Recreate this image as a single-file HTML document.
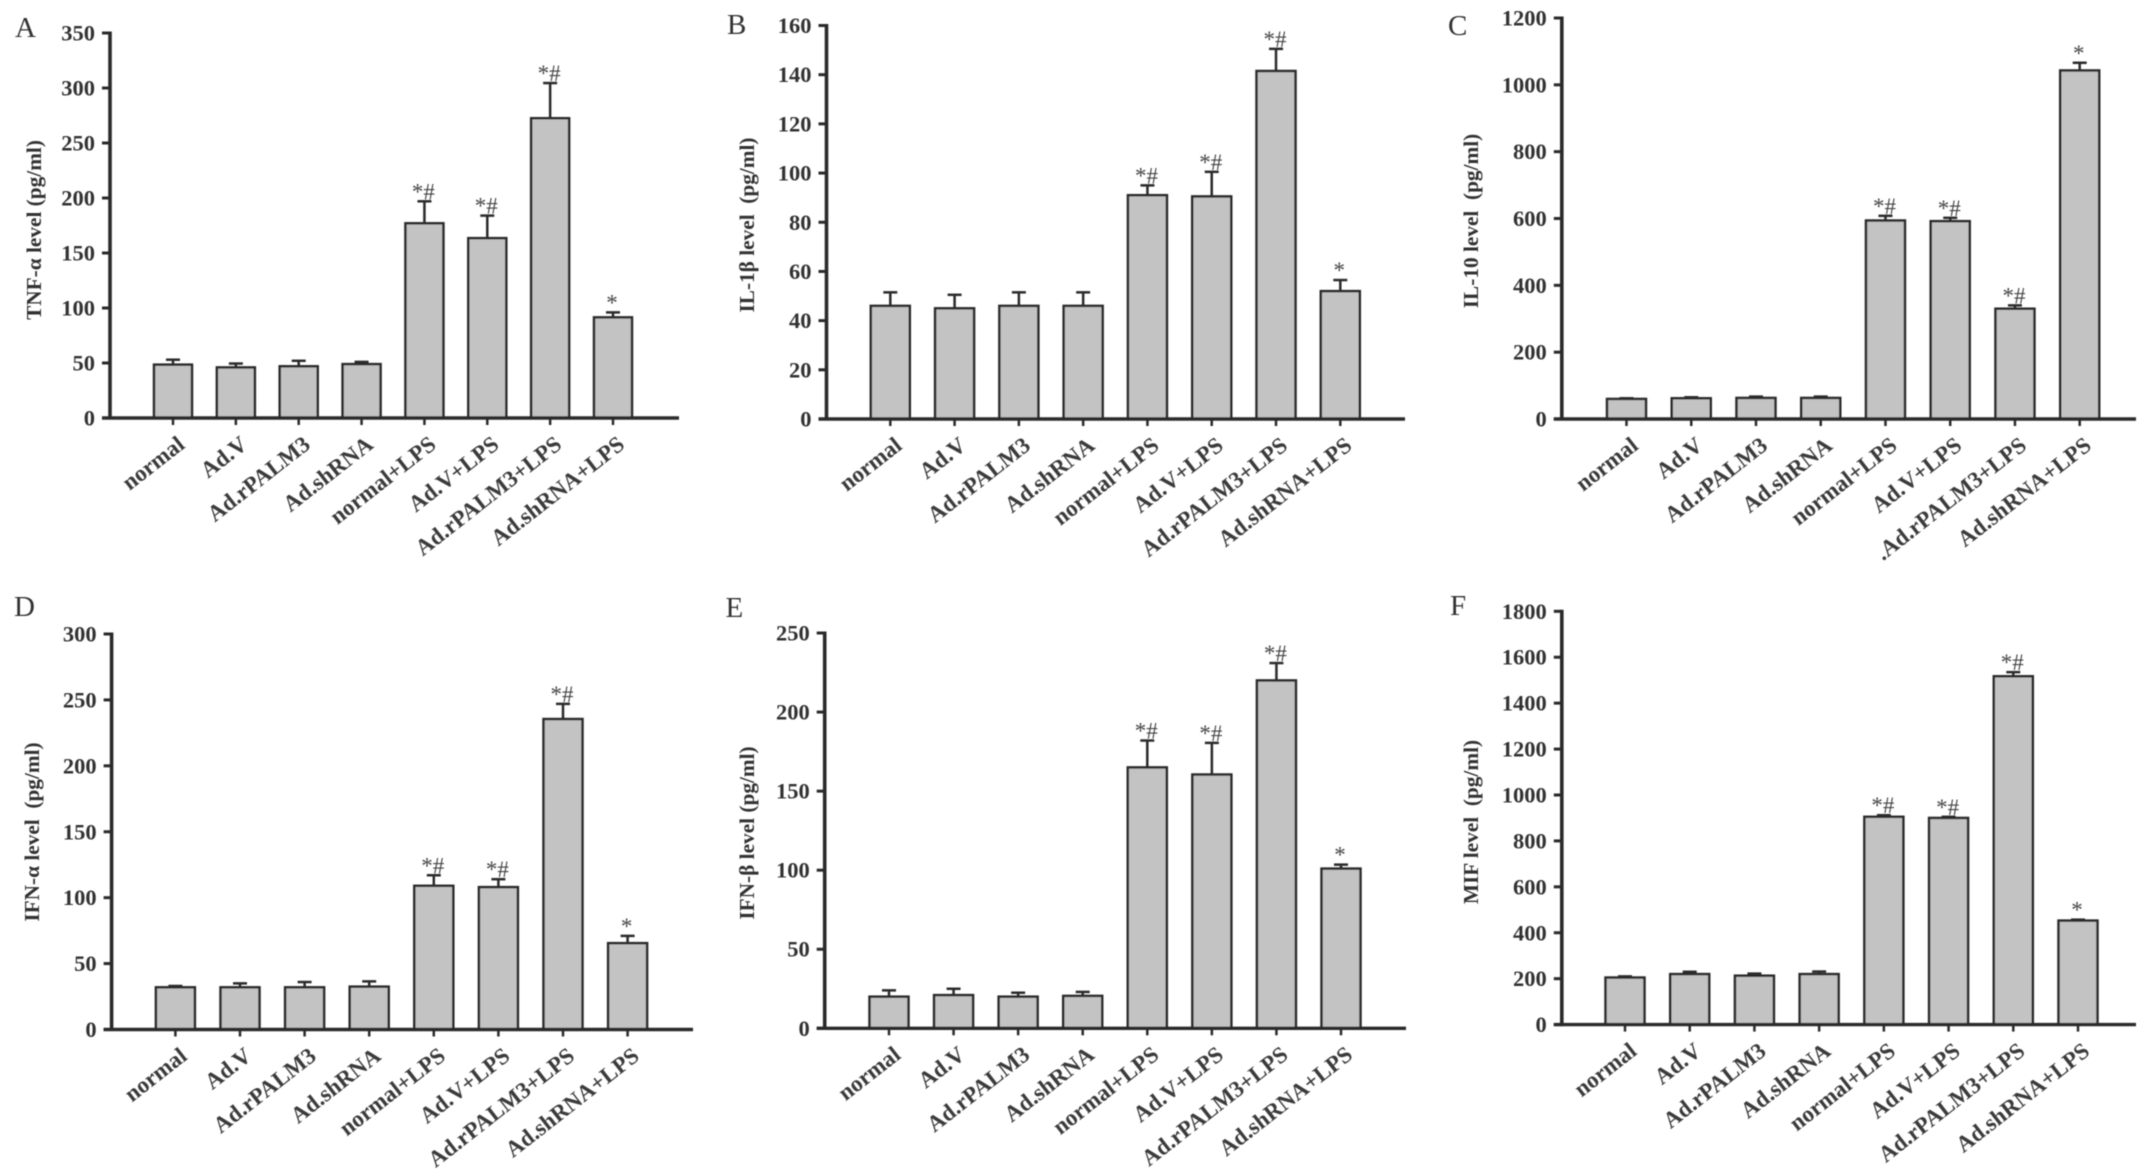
<!DOCTYPE html>
<html lang="en">
<head>
<meta charset="utf-8">
<title>Cytokine levels by treatment group</title>
<style>
html,body{margin:0;padding:0;background:#fff;}
svg{display:block;}
text{font-family:"Liberation Serif",serif;}
</style>
</head>
<body>
<svg id="figure" xmlns="http://www.w3.org/2000/svg" width="2150" height="1176" viewBox="0 0 2150 1176">
<defs><filter id="soft" x="-2%" y="-2%" width="104%" height="104%"><feGaussianBlur stdDeviation="0.6"/></filter></defs>
<rect width="2150" height="1176" fill="#fff"/>
<g id="root" filter="url(#soft)"></g>
</svg>
<script>
const categories = ["normal","Ad.V","Ad.rPALM3","Ad.shRNA","normal+LPS","Ad.V+LPS","Ad.rPALM3+LPS","Ad.shRNA+LPS"];
const categoriesC = ["normal","Ad.V","Ad.rPALM3","Ad.shRNA","normal+LPS","Ad.V+LPS",".Ad.rPALM3+LPS","Ad.shRNA+LPS"];
const significance = ["","","","","*#","*#","*#","*"];

const tnfValues = [48.5,46,47,49,177,163.5,272.5,91.5];
const tnfErrorTops = [53,49.5,52,51,197,184,304.5,96];
const tnfTicks = [0,50,100,150,200,250,300,350];

const il1Values = [46,45,46,46,91,90.5,141.5,52];
const il1ErrorTops = [51.5,50.5,51.5,51.5,95,100.5,150.5,56.5];
const il1Ticks = [0,20,40,60,80,100,120,140,160];

const il10Values = [60,62,63,63,594,592,330,1043];
const il10ErrorTops = [62,65,67,67,608,602,340,1066];
const il10Ticks = [0,200,400,600,800,1000,1200];

const ifnaValues = [32,32,32,32.5,109,108,235.5,65.5];
const ifnaErrorTops = [33,35,36,36.5,117,114,247,71];
const ifnaTicks = [0,50,100,150,200,250,300];

const ifnbValues = [20,21,20,20.5,165,160.5,220,101];
const ifnbErrorTops = [24,25,22.5,23,182,180.5,231,103.5];
const ifnbTicks = [0,50,100,150,200,250];

const mifValues = [205,220,213,220,905,900,1517,453];
const mifErrorTops = [210,230,222,231,912,905,1535,457];
const mifTicks = [0,200,400,600,800,1000,1200,1400,1600,1800];

const panels = [
  {key:"a",letter:"A",title:"TNF-\u03B1 level (pg/ml)",cats:categories,values:tnfValues,errs:tnfErrorTops,ticks:tnfTicks,
   box:{axisX:110,y0:418,top:33,endX:679,first:173,last:613,barW:38,letterX:15,letterY:37,titleX:41,titleY:230}},
  {key:"b",letter:"B",title:"IL-1\u03B2 level\u00A0 (pg/ml)",cats:categories,values:il1Values,errs:il1ErrorTops,ticks:il1Ticks,
   box:{axisX:826.5,y0:419,top:25.5,endX:1405,first:890.3,last:1340.3,barW:39,letterX:727,letterY:34,titleX:754,titleY:225}},
  {key:"c",letter:"C",title:"IL-10 level\u00A0 (pg/ml)",cats:categoriesC,values:il10Values,errs:il10ErrorTops,ticks:il10Ticks,
   box:{axisX:1561.8,y0:419,top:18,endX:2136,first:1626.5,last:2079.7,barW:39,letterX:1448,letterY:35,titleX:1478,titleY:221}},
  {key:"d",letter:"D",title:"IFN-\u03B1 level\u00A0 (pg/ml)",cats:categories,values:ifnaValues,errs:ifnaErrorTops,ticks:ifnaTicks,
   box:{axisX:111.6,y0:1029.5,top:634,endX:693,first:175.4,last:627.6,barW:39,letterX:14,letterY:616,titleX:39,titleY:832}},
  {key:"e",letter:"E",title:"IFN-\u03B2 level (pg/ml)",cats:categories,values:ifnbValues,errs:ifnbErrorTops,ticks:ifnbTicks,
   box:{axisX:824.7,y0:1028.3,top:633,endX:1406,first:889,last:1341,barW:39,letterX:725.5,letterY:617,titleX:754,titleY:833}},
  {key:"f",letter:"F",title:"MIF level\u00A0 (pg/ml)",cats:categories,values:mifValues,errs:mifErrorTops,ticks:mifTicks,
   box:{axisX:1561.8,y0:1024.6,top:611.3,endX:2136,first:1625,last:2078,barW:39,letterX:1450,letterY:615,titleX:1478,titleY:822}}
];

const NS = "http://www.w3.org/2000/svg";
const INK = "#2c2c2c";
function make(tag, parent, attrs, txt) {
  const el = document.createElementNS(NS, tag);
  for (const k in attrs) el.setAttribute(k, attrs[k]);
  if (txt !== undefined) el.textContent = txt;
  parent.appendChild(el);
  return el;
}
const root = document.getElementById("root");

panels.forEach(function (p) {
  const b = p.box;
  const yMax = p.ticks[p.ticks.length - 1];
  const yScale = function (v) { return b.y0 - (v / yMax) * (b.y0 - b.top); };
  const xScale = function (i) { return b.first + (i * (b.last - b.first)) / (p.cats.length - 1); };

  const g = make("g", root, {});
  
  

  const letter = make("text", g, {x:b.letterX, y:b.letterY, "font-size":29, fill:"#333"}, p.letter);
  
  

  const title = make("text", g, {x:b.titleX, y:b.titleY, "font-size":21.3, "font-weight":"bold", fill:"#333",
    "text-anchor":"middle", transform:"rotate(-90 " + b.titleX + " " + b.titleY + ")"}, p.title);
  
  

  p.values.forEach(function (v, i) {
    const cx = xScale(i);
    const errLine = make("line", g, {x1:cx, x2:cx, y1:yScale(v), y2:yScale(p.errs[i]), stroke:INK, "stroke-width":2.5});
    
    

    const errCap = make("line", g, {x1:cx - 7, x2:cx + 7, y1:yScale(p.errs[i]), y2:yScale(p.errs[i]), stroke:INK, "stroke-width":2.5});
    
    

    const bar = make("rect", g, {x:cx - b.barW / 2, y:yScale(v), width:b.barW, height:b.y0 - yScale(v),
      fill:"#c3c3c3", stroke:INK, "stroke-width":2.5});
    
    

    if (significance[i]) {
      const mark = make("text", g, {x:cx - 1, y:yScale(p.errs[i]) - 2, "font-size":23, fill:"#444", "text-anchor":"middle"}, significance[i]);
      
      
    }

    const xTick = make("line", g, {x1:cx, x2:cx, y1:b.y0, y2:b.y0 + 7, stroke:INK, "stroke-width":2.5});
    
    

    const lx = cx + 13, ly = b.y0 + 29;
    const xLabel = make("text", g, {x:lx, y:ly, "font-size":23, "font-weight":"bold", fill:"#3a3a3a",
      "text-anchor":"end", transform:"rotate(-38 " + lx + " " + ly + ")"}, p.cats[i]);
    
    
  });

  p.ticks.forEach(function (t) {
    const y = yScale(t);
    const yTick = make("line", g, {x1:b.axisX - 8, x2:b.axisX, y1:y, y2:y, stroke:INK, "stroke-width":3});
    
    

    const yLabel = make("text", g, {x:b.axisX - 15, y:y + 7.5, "font-size":22.5, "font-weight":"bold", fill:"#333", "text-anchor":"end"}, String(t));
    
    
  });

  const yAxis = make("line", g, {x1:b.axisX, x2:b.axisX, y1:b.top - 1.5, y2:b.y0 + 1.5, stroke:INK, "stroke-width":3.6});
  
  

  const xAxis = make("line", g, {x1:b.axisX - 8, x2:b.endX, y1:b.y0, y2:b.y0, stroke:INK, "stroke-width":3.4});
  
  
});
</script>
</body>
</html>
